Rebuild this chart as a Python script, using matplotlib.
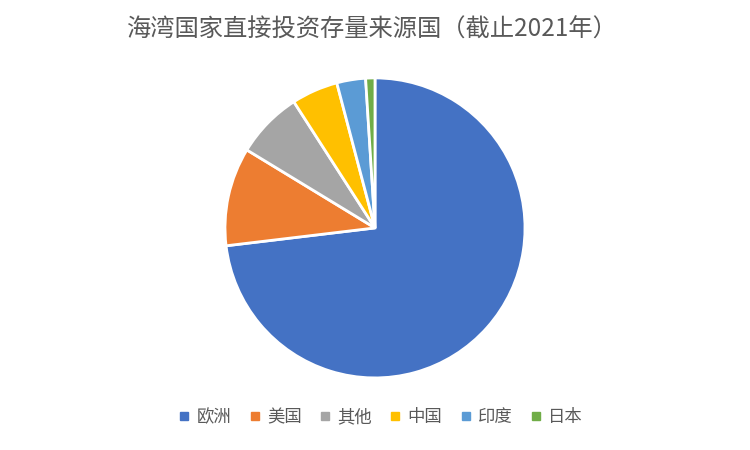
import matplotlib
matplotlib.use("Agg")
import matplotlib.pyplot as plt
from matplotlib.lines import Line2D

plt.rcParams['font.family'] = ['Noto Sans CJK SC', 'DejaVu Sans']

categories = ['欧洲', '美国', '其他', '中国', '印度', '日本']
values = [73.1, 10.6, 7.2, 5.0, 3.1, 1.0]
colors = ['#4472C4', '#ED7D31', '#A5A5A5', '#FFC000', '#5B9BD5', '#70AD47']
title = '海湾国家直接投资存量来源国（截止2021年）'

fig = plt.figure(figsize=(7.5, 4.5), dpi=100)
ax = fig.add_axes([0.3, 0.16, 0.4, 0.667])
ax.pie(values, colors=colors, startangle=90, counterclock=False,
       wedgeprops=dict(edgecolor='white', linewidth=2))
ax.set_xlim(-1.0, 1.0)
ax.set_ylim(-1.0, 1.0)
ax.set_aspect('equal')

fig.text(0.495, 0.933, title, ha='center', va='center', fontsize=17.5,
         color='#595959')

handles = [Line2D([0], [0], marker='s', linestyle='none', markersize=6,
                  markerfacecolor=c, markeredgecolor=c) for c in colors]
leg = fig.legend(handles, categories, loc='center', bbox_to_anchor=(0.507, 0.073),
                 ncol=6, frameon=False, handlelength=0.8,
                 handletextpad=0.3, columnspacing=0.95, labelcolor='#595959',
                 prop={'size': 12.5})

fig.savefig('out.png', dpi=100)
